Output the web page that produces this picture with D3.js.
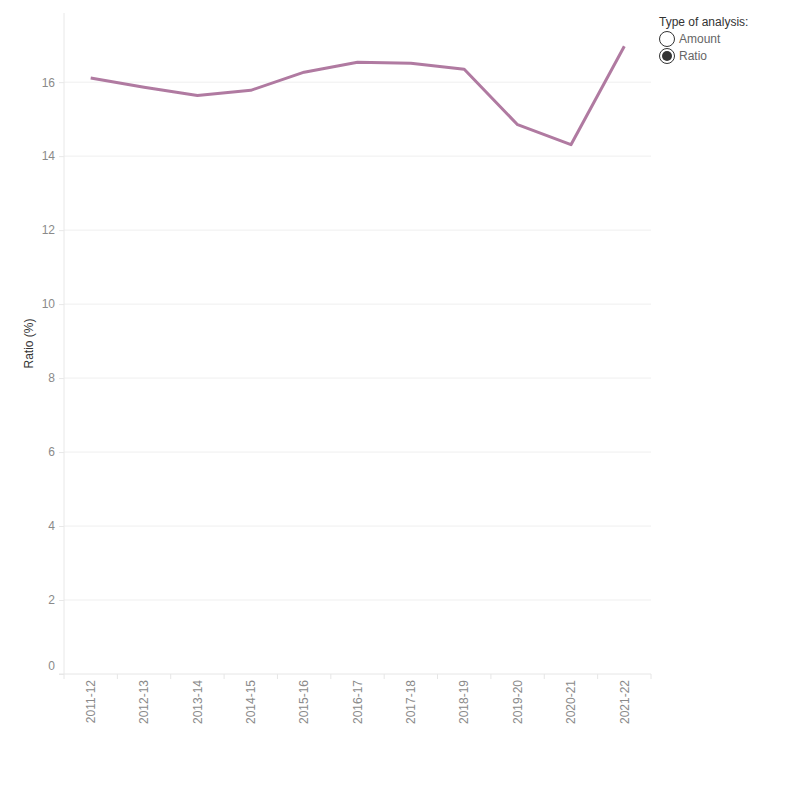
<!DOCTYPE html>
<html>
<head>
<meta charset="utf-8">
<script src="https://cdn.jsdelivr.net/npm/d3@7"></script>
<style>
  body { margin: 0; background: #fff; }
  text { font-family: "Liberation Sans", Arial, sans-serif; }
</style>
</head>
<body>
<div id="chart"></div>
<script>
// fiscal years on the x axis
const years = ["2011-12", "2012-13", "2013-14", "2014-15", "2015-16", "2016-17",
               "2017-18", "2018-19", "2019-20", "2020-21", "2021-22"];
// ratio (%) per year
const ratios = [16.11, 15.86, 15.64, 15.78, 16.27, 16.54, 16.51, 16.35, 14.85, 14.31, 16.97];
const yTicks = [0, 2, 4, 6, 8, 10, 12, 14, 16];
const legendOptions = ["Amount", "Ratio"];
const selectedOption = "Ratio";

const width = 800, height = 800;
const margin = { top: 13, right: 149, bottom: 126, left: 64 };
const innerW = width - margin.left - margin.right;
const innerH = height - margin.top - margin.bottom;

const svg = d3.select("#chart")
    .append("svg")
    .attr("width", width)
    .attr("height", height);

const g = svg.append("g")
    .attr("transform", `translate(${margin.left},${margin.top})`);

// scales
const x = d3.scaleBand()
    .domain(years)
    .range([0, innerW]);

const y = d3.scaleLinear()
    .domain([0, 17.87])
    .range([innerH, 0]);

// gridlines
g.append("g")
    .selectAll("line")
    .data(yTicks.filter(d => d > 0))
    .enter()
    .append("line")
    .attr("x1", 0)
    .attr("x2", innerW)
    .attr("y1", d => y(d))
    .attr("y2", d => y(d))
    .attr("stroke", "#efefef")
    .attr("stroke-width", 1);

// y axis
const yAxis = g.append("g")
    .call(d3.axisLeft(y).tickValues(yTicks).tickSize(5).tickPadding(4).tickFormat(d3.format("d")));
yAxis.select(".domain").attr("stroke", "#e8e8e8").attr("d", `M0,0V${innerH}`);
yAxis.selectAll(".tick line").attr("stroke", "#e8e8e8");
yAxis.selectAll(".tick text")
    .attr("fill", "#8a8a8a")
    .style("font-size", "12px")
    .attr("dy", d => d === 0 ? "-0.4em" : "0.32em");

// x axis
const xAxis = g.append("g")
    .attr("transform", `translate(0,${innerH})`)
    .call(d3.axisBottom(x).tickSize(0).tickPadding(0));
xAxis.select(".domain").attr("stroke", "#e6e6e6").attr("d", `M-5,0H${innerW}`);
xAxis.selectAll(".tick text")
    .attr("transform", "rotate(-90)")
    .attr("x", -6)
    .attr("y", 0)
    .attr("dy", "0.35em")
    .style("text-anchor", "end")
    .style("font-size", "12px")
    .attr("fill", "#8a8a8a");

// band separators below the axis
g.append("g")
    .selectAll("line")
    .data(years.concat(["end"]))
    .enter()
    .append("line")
    .attr("x1", (d, i) => i * x.step())
    .attr("x2", (d, i) => i * x.step())
    .attr("y1", innerH)
    .attr("y2", innerH + 5)
    .attr("stroke", "#e6e6e6");

// line
const line = d3.line()
    .x((d, i) => x(years[i]) + x.bandwidth() / 2)
    .y(d => y(d));

g.append("path")
    .datum(ratios)
    .attr("fill", "none")
    .attr("stroke", "#b07aa1")
    .attr("stroke-width", 3)
    .attr("stroke-linejoin", "round")
    .attr("d", line);

// y axis title
svg.append("text")
    .attr("transform", `translate(33,${margin.top + innerH / 2}) rotate(-90)`)
    .attr("text-anchor", "middle")
    .style("font-size", "12px")
    .attr("fill", "#333")
    .text("Ratio (%)");

// parameter control
const legend = svg.append("g").attr("transform", "translate(659,0)");
legend.append("text")
    .attr("x", 0)
    .attr("y", 26)
    .style("font-size", "12px")
    .attr("fill", "#333")
    .text("Type of analysis:");

const opts = legend.selectAll(".opt")
    .data(legendOptions)
    .enter()
    .append("g")
    .attr("class", "opt")
    .attr("transform", (d, i) => `translate(0,${39 + i * 17})`);

opts.append("circle")
    .attr("cx", 8)
    .attr("cy", 0)
    .attr("r", 7.5)
    .attr("fill", "#fff")
    .attr("stroke", "#333")
    .attr("stroke-width", 1);

opts.filter(d => d === selectedOption)
    .append("circle")
    .attr("cx", 8)
    .attr("cy", 0)
    .attr("r", 5)
    .attr("fill", "#333");

opts.append("text")
    .attr("x", 20)
    .attr("y", 4)
    .style("font-size", "12px")
    .attr("fill", "#666")
    .text(d => d);
</script>
</body>
</html>
